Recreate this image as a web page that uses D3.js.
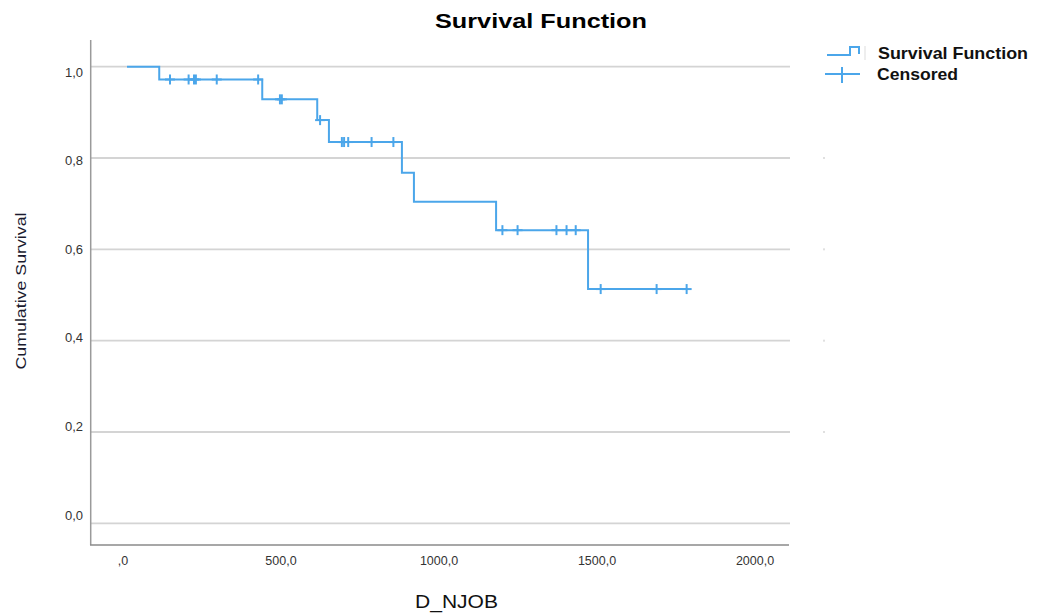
<!DOCTYPE html>
<html>
<head>
<meta charset="utf-8">
<script src="https://cdn.jsdelivr.net/npm/d3@7"></script>
<style>
  html, body { margin: 0; padding: 0; background: #fff; }
  svg { display: block; font-family: "Liberation Sans", Arial, sans-serif; }
</style>
</head>
<body>
<svg id="chart" width="1046" height="614"></svg>
<script>
// ---- data ----
const eventTimes = [0, 102, 428, 602, 639, 870, 908, 1168, 1459];
const survival   = [1.0, 0.972, 0.9285, 0.883, 0.835, 0.768, 0.704, 0.642, 0.513];
const censorTimes = [136, 195, 212, 218, 284, 415, 484, 490, 611, 680, 687, 700, 774, 843,
                     1188, 1236, 1359, 1391, 1420, 1499, 1676, 1771];
const endTime = 1771;
const xTickValues = [0, 500, 1000, 1500, 2000];
const xTickLabels = [",0", "500,0", "1000,0", "1500,0", "2000,0"];
const yTickValues = [0, 0.2, 0.4, 0.6, 0.8, 1.0];
const yTickLabels = ["0,0", "0,2", "0,4", "0,6", "0,8", "1,0"];

const lineColor = "#4ba6ea";
const svg = d3.select("#chart");

const x = d3.scaleLinear().domain([0, 2000]).range([127, 759]);
const y = d3.scaleLinear().domain([0, 1]).range([523.3, 66.7]);
const xLab = d3.scaleLinear().domain([0, 2000]).range([123, 755]);
const yLab = d3.scaleLinear().domain([0, 1]).range([515, 72]);

// gridlines
svg.append("g").selectAll("line").data(yTickValues).join("line")
  .attr("x1", 91).attr("x2", 790)
  .attr("y1", d => y(d)).attr("y2", d => y(d))
  .attr("stroke", "#d4d4d4").attr("stroke-width", 1.8);

// tiny marks right of grid
svg.append("g").selectAll("rect").data(yTickValues.filter(v => v > 0 && v < 1)).join("rect")
  .attr("x", 823).attr("y", d => y(d) - 1).attr("width", 2).attr("height", 2)
  .attr("fill", "#e0e0e0");

// axes lines
svg.append("line").attr("x1", 90.7).attr("x2", 90.7).attr("y1", 40).attr("y2", 545)
  .attr("stroke", "#9a9a9a").attr("stroke-width", 1.5);
svg.append("line").attr("x1", 90).attr("x2", 789).attr("y1", 545).attr("y2", 545)
  .attr("stroke", "#8a8a8a").attr("stroke-width", 1.5);

// tick labels
svg.append("g").selectAll("text").data(xTickValues).join("text")
  .attr("x", d => xLab(d)).attr("y", 565)
  .attr("text-anchor", "middle").attr("font-size", 12.5).attr("fill", "#333")
  .text((d, i) => xTickLabels[i]);
svg.append("g").selectAll("text").data(yTickValues).join("text")
  .attr("x", 83).attr("y", d => yLab(d)).attr("dy", "0.35em")
  .attr("text-anchor", "end").attr("font-size", 13).attr("fill", "#333")
  .text((d, i) => yTickLabels[i]);

// survival step curve
const pts = [];
eventTimes.forEach((t, i) => pts.push([t, survival[i]]));
pts.push([endTime, survival[survival.length - 1]]);
const line = d3.line().x(d => x(d[0])).y(d => y(d[1])).curve(d3.curveStepAfter);
svg.append("path").attr("d", line(pts))
  .attr("fill", "none").attr("stroke", lineColor).attr("stroke-width", 2);

// censored markers
function survAt(t) {
  let s = survival[0];
  eventTimes.forEach((et, i) => { if (et <= t) s = survival[i]; });
  return s;
}
const cg = svg.append("g").attr("stroke", lineColor).attr("stroke-width", 2);
censorTimes.forEach(t => {
  const cx = x(t), cy = y(survAt(t));
  cg.append("line").attr("x1", cx).attr("x2", cx).attr("y1", cy - 5).attr("y2", cy + 5);
  cg.append("line").attr("x1", cx - 5).attr("x2", cx + 5).attr("y1", cy).attr("y2", cy);
});

// title
svg.append("text").attr("x", 541).attr("y", 28).attr("text-anchor", "middle")
  .attr("font-size", 21).attr("font-weight", "bold").attr("fill", "#000")
  .attr("textLength", 212).attr("lengthAdjust", "spacingAndGlyphs")
  .text("Survival Function");

// axis titles
svg.append("text").attr("x", 456.5).attr("y", 608).attr("text-anchor", "middle")
  .attr("font-size", 18).attr("fill", "#111")
  .attr("textLength", 83).attr("lengthAdjust", "spacingAndGlyphs")
  .text("D_NJOB");
svg.append("text").attr("transform", "translate(26,291) rotate(-90)")
  .attr("text-anchor", "middle").attr("font-size", 14).attr("fill", "#1a1a2e")
  .attr("textLength", 157).attr("lengthAdjust", "spacingAndGlyphs")
  .text("Cumulative Survival");

// legend
const lg = svg.append("g");
lg.append("path").attr("d", "M827,55 H850 V47 H859 V54")
  .attr("fill", "none").attr("stroke", lineColor).attr("stroke-width", 2);
lg.append("line").attr("x1", 825).attr("x2", 860).attr("y1", 74).attr("y2", 74)
  .attr("stroke", lineColor).attr("stroke-width", 2);
lg.append("line").attr("x1", 842).attr("x2", 842).attr("y1", 67).attr("y2", 83)
  .attr("stroke", lineColor).attr("stroke-width", 2);
lg.append("line").attr("x1", 865).attr("x2", 865).attr("y1", 46).attr("y2", 60)
  .attr("stroke", "#ddd").attr("stroke-width", 1);
lg.append("text").attr("x", 878).attr("y", 59).attr("font-size", 17).attr("font-weight", "bold")
  .attr("fill", "#111").attr("textLength", 150).attr("lengthAdjust", "spacingAndGlyphs")
  .text("Survival Function");
lg.append("text").attr("x", 877).attr("y", 80).attr("font-size", 17).attr("font-weight", "bold")
  .attr("fill", "#111").attr("textLength", 81).attr("lengthAdjust", "spacingAndGlyphs")
  .text("Censored");
</script>
</body>
</html>
